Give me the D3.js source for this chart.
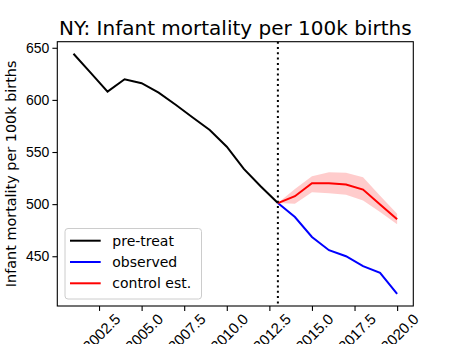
<!DOCTYPE html>
<html>
<head>
<meta charset="utf-8">
<script src="https://cdn.jsdelivr.net/npm/d3@7"></script>
<style>
  body { margin: 0; background: #fff; }
  svg { font-family: "DejaVu Sans", sans-serif; }
</style>
</head>
<body>
<div id="chart"></div>
<script>
const preYears = [2001, 2002, 2003, 2004, 2005, 2006, 2007, 2008, 2009, 2010, 2011, 2012, 2013];
const preValues = [644.3, 626.2, 608.0, 619.8, 616.0, 607.0, 595.3, 583.1, 571.1, 555.1, 533.8, 516.9, 501.0];

const postYears = [2013, 2014, 2015, 2016, 2017, 2018, 2019, 2020];
const observed = [501.0, 487.6, 468.5, 455.8, 450.0, 440.5, 434.1, 413.8];
const control = [501.0, 507.6, 520.1, 520.1, 518.8, 514.0, 499.7, 485.4];
const ciLower = [501.0, 500.4, 511.5, 510.5, 509.0, 503.5, 492.4, 480.6];
const ciUpper = [501.0, 514.4, 526.8, 530.6, 530.0, 525.8, 508.1, 490.8];

const treatYear = 2013;
const xTicks = [2002.5, 2005, 2007.5, 2010, 2012.5, 2015, 2017.5, 2020];
const yTicks = [450, 500, 550, 600, 650];

const margin = { top: 41.7, right: 45.7, bottom: 38, left: 57.3 };
const width = 459 - margin.left - margin.right;
const height = 344 - margin.top - margin.bottom;

const svg = d3.select("#chart").append("svg")
    .attr("width", 459)
    .attr("height", 344);

const g = svg.append("g")
    .attr("transform", `translate(${margin.left},${margin.top})`);

// matplotlib-style 5% padding
const pad = (lo, hi) => { const p = (hi - lo) * 0.05; return [lo - p, hi + p]; };
const allY = preValues.concat(observed, control, ciLower, ciUpper);
const x = d3.scaleLinear().domain(pad(2001, 2020)).range([0, width]);
const y = d3.scaleLinear().domain(pad(d3.min(allY), d3.max(allY))).range([height, 0]);

const pre = preYears.map((yr, i) => ({ x: yr, y: preValues[i] }));
const post = postYears.map((yr, i) => ({ x: yr, obs: observed[i], ctl: control[i], lo: ciLower[i], hi: ciUpper[i] }));

g.append("path")
    .datum(post)
    .attr("fill", "red")
    .attr("fill-opacity", 0.2)
    .attr("d", d3.area().x(d => x(d.x)).y0(d => y(d.lo)).y1(d => y(d.hi)));

g.append("path")
    .datum(pre)
    .attr("fill", "none")
    .attr("stroke", "black")
    .attr("stroke-width", 2)
    .attr("d", d3.line().x(d => x(d.x)).y(d => y(d.y)));

g.append("path")
    .datum(post)
    .attr("fill", "none")
    .attr("stroke", "blue")
    .attr("stroke-width", 2)
    .attr("d", d3.line().x(d => x(d.x)).y(d => y(d.obs)));

g.append("path")
    .datum(post)
    .attr("fill", "none")
    .attr("stroke", "red")
    .attr("stroke-width", 2)
    .attr("d", d3.line().x(d => x(d.x)).y(d => y(d.ctl)));

g.append("line")
    .attr("x1", x(treatYear)).attr("x2", x(treatYear))
    .attr("y1", 0).attr("y2", height)
    .attr("stroke", "black")
    .attr("stroke-width", 2)
    .attr("stroke-dasharray", "2,3.3");

// axes
const xAxis = g.append("g")
    .attr("transform", `translate(0,${height})`)
    .call(d3.axisBottom(x).tickValues(xTicks).tickFormat(d3.format(".1f")).tickSize(4.9).tickSizeOuter(0));
xAxis.selectAll("text")
    .attr("font-size", 15)
    .attr("fill", "black")
    .attr("text-anchor", "middle")
    .attr("dy", "0.35em")
    .attr("y", 0)
    .attr("transform", "translate(2,26.5) rotate(-45)");

const yAxis = g.append("g")
    .call(d3.axisLeft(y).tickValues(yTicks).tickSize(4.9).tickSizeOuter(0));
yAxis.selectAll("text").attr("font-size", 14).attr("fill", "black").attr("x", -8);

g.selectAll(".domain").remove();
g.selectAll(".tick line").attr("stroke", "black").attr("stroke-width", 1.1);

g.append("rect")
    .attr("width", width).attr("height", height)
    .attr("fill", "none").attr("stroke", "black").attr("stroke-width", 1.1);

svg.append("text")
    .attr("x", margin.left + width / 2)
    .attr("y", 35)
    .attr("text-anchor", "middle")
    .attr("font-size", 20)
    .text("NY: Infant mortality per 100k births");

svg.append("text")
    .attr("transform", `translate(16,${margin.top + height / 2}) rotate(-90)`)
    .attr("text-anchor", "middle")
    .attr("font-size", 14.4)
    .text("Infant mortality per 100k births");

// legend
const legendItems = [
    { label: "pre-treat", color: "black" },
    { label: "observed", color: "blue" },
    { label: "control est.", color: "red" }
];
const legend = svg.append("g").attr("transform", "translate(65,228.5)");
legend.append("rect")
    .attr("width", 136.5).attr("height", 70.5)
    .attr("rx", 3)
    .attr("fill", "white").attr("fill-opacity", 0.8)
    .attr("stroke", "#cccccc");
const item = legend.selectAll(".item")
    .data(legendItems)
    .enter().append("g")
    .attr("transform", (d, i) => `translate(0,${12.2 + i * 21.3})`);
item.append("line")
    .attr("x1", 5).attr("x2", 35.7)
    .attr("stroke", d => d.color).attr("stroke-width", 2);
item.append("text")
    .attr("x", 47.3).attr("dy", "0.35em")
    .attr("font-size", 14)
    .text(d => d.label);
</script>
</body>
</html>
